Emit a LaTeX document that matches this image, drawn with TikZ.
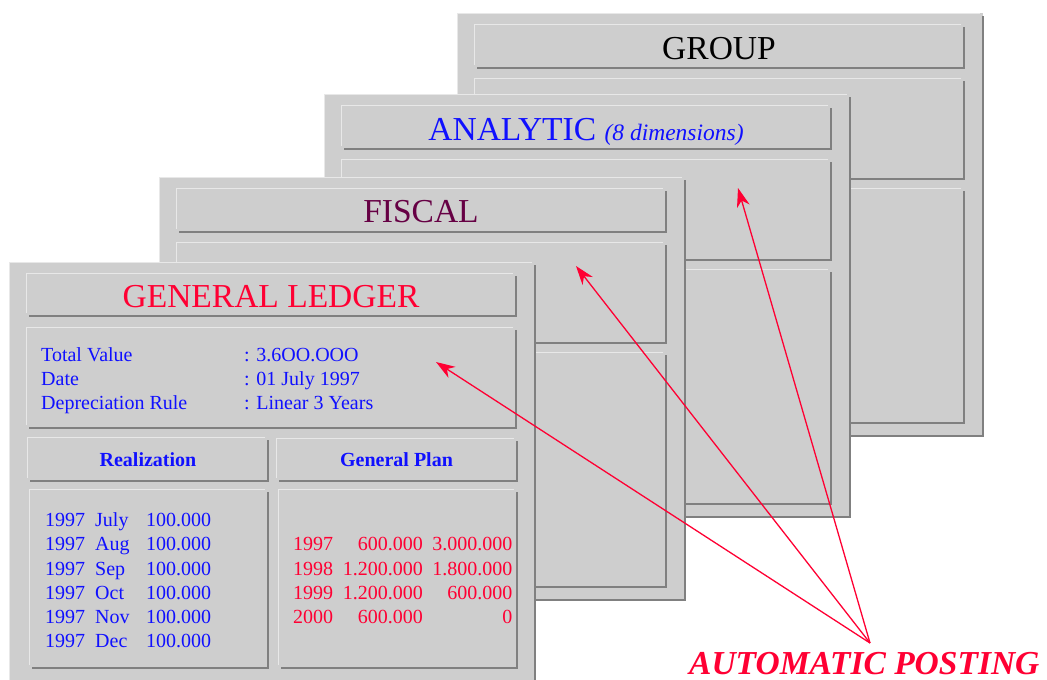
\documentclass[tikz,border=0pt]{standalone}
\usepackage{fontspec}
\setmainfont{Liberation Serif}
\usetikzlibrary{arrows.meta}
\definecolor{panelgray}{RGB}{206,206,206}
\definecolor{edgelight}{RGB}{232,232,232}
\definecolor{edgedark}{RGB}{128,128,128}
\definecolor{postred}{RGB}{255,0,51}
\definecolor{txtblue}{RGB}{16,16,255}
\definecolor{fiscalpurple}{RGB}{102,0,68}
% raised box: [dark edge width]{x1}{y1}{x2}{y2}
\newcommand{\bevelbox}[5][1.2]{%
  \fill[panelgray] (#2,#3) rectangle (#4,#5);
  \draw[edgelight,line width=1pt] (#2,{#5-3}) -- (#2,#3) -- ({#4-3},#3);
  \draw[edgedark,line width=#1pt] (#4,{#3+3}) -- (#4,#5) -- ({#2+3},#5);
}

\begin{document}
\begin{tikzpicture}[x=1pt,y=-1pt,
  title/.style={font=\fontsize{33.5}{40}\selectfont,anchor=base,inner sep=0pt},
  datatext/.style={font=\fontsize{20}{24}\selectfont,anchor=base west,inner sep=0pt,text=txtblue},
  headtext/.style={font=\fontsize{20}{24}\selectfont\bfseries,anchor=base,inner sep=0pt,text=txtblue},
  plantext/.style={font=\fontsize{20}{24}\selectfont,anchor=base east,inner sep=0pt,text=postred},
  postarrow/.style={postred,line width=1.3pt,-{Stealth[length=19pt,width=13pt,inset=6pt]}}]
  \useasboundingbox (0,0) rectangle (1047,680);
  % stacked ledgers behind
  \foreach \px/\py in {457/13,324/94,159/177}{
    \bevelbox[2]{\px}{\py}{\px+526}{\py+423}
    \bevelbox{\px+17}{\py+11}{\px+507}{\py+55}
    \bevelbox{\px+17}{\py+65}{\px+507}{\py+166}
    \bevelbox{\px+17}{\py+175}{\px+507}{\py+410}
  }
  % general ledger in front
  \bevelbox[2]{9}{262}{535}{685}
  \bevelbox{26}{273}{516}{316}
  \bevelbox{26}{327}{516}{428}
  \bevelbox{27}{437}{268}{481}
  \bevelbox{276}{438}{517}{481}
  \bevelbox{29}{489}{268}{668}
  \bevelbox{278}{489}{517}{668}
  % titles
  \node[title,text=black] (grouptitle) at (719,59.5) {GROUP};
  \node[title,text=txtblue] (analytictitle) at (586,140.5) {ANALYTIC {\fontsize{23.5}{28}\selectfont\itshape (8 dimensions)}};
  \node[title,text=fiscalpurple] (fiscaltitle) at (421,222) {FISCAL};
  \node[title,text=postred] (gltitle) at (271,307) {GENERAL LEDGER};
  % asset data
  \node[datatext] (totallabel) at (41,361) {Total Value};
  \node[datatext] (totalvalue) at (244,361) {: 3.6OO.OOO};
  \node[datatext] (datelabel) at (41,385.2) {Date};
  \node[datatext] (datevalue) at (244,385.2) {: 01 July 1997};
  \node[datatext] (rulelabel) at (41,409.5) {Depreciation Rule};
  \node[datatext] (rulevalue) at (244,409.5) {: Linear 3 Years};
  \node[headtext] (realhead) at (148,466) {Realization};
  \node[headtext] (planhead) at (396.5,466.5) {General Plan};
  \foreach \mon [count=\i from 0] in {July,Aug,Sep,Oct,Nov,Dec}{
    \node[datatext] (realyear\i) at (45,{526.7+24.2*\i}) {1997};
    \node[datatext] (realmon\i) at (95,{526.7+24.2*\i}) {\mon};
    \node[datatext] (realval\i) at (146,{526.7+24.2*\i}) {100.000};
  }
  \foreach \yr/\amt/\rest [count=\i from 1] in {1997/600.000/3.000.000,1998/1.200.000/1.800.000,1999/1.200.000/600.000,2000/600.000/0}{
    \node[datatext,text=postred] (planyear\i) at (293,{526.7+24.2*\i}) {\yr};
    \node[plantext] (planamt\i) at (423,{526.7+24.2*\i}) {\amt};
    \node[plantext] (planrest\i) at (512.5,{526.7+24.2*\i}) {\rest};
  }
  % posting arrows
  \node[font=\fontsize{33.5}{40}\selectfont\bfseries\itshape,text=postred,anchor=base west,inner sep=0pt] (posting) at (689,674) {AUTOMATIC POSTING};
  \coordinate (fan) at (870,643);
  \coordinate (gltarget) at (436,362);
  \coordinate (fiscaltarget) at (576,266);
  \coordinate (analytictarget) at (738,188);
  \draw[postarrow] (fan) -- (gltarget);
  \draw[postarrow] (fan) -- (fiscaltarget);
  \draw[postarrow] (fan) -- (analytictarget);
\end{tikzpicture}
\end{document}
